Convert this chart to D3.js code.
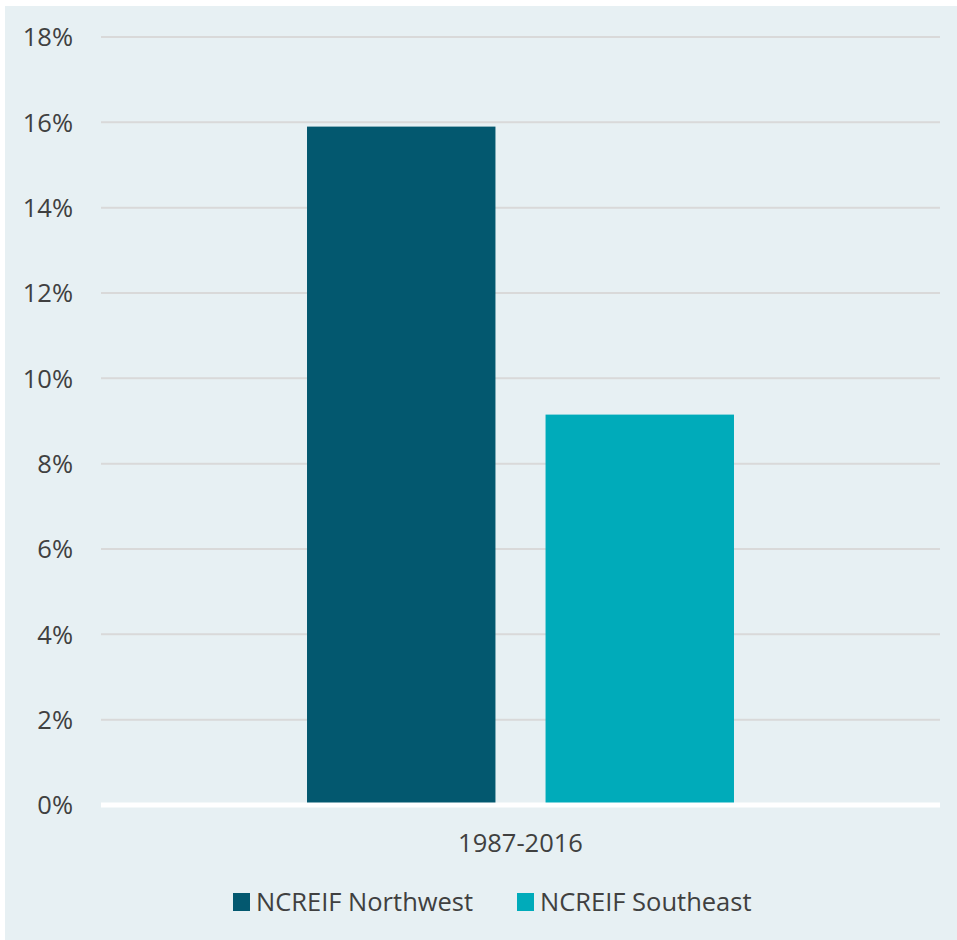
<!DOCTYPE html>
<html><head><meta charset="utf-8">
<script src="https://cdn.jsdelivr.net/npm/d3@7"></script>
<style>body{margin:0;background:#fff;}svg{display:block;}</style>
</head><body>
<script>
const categories = ["1987-2016"];
const seriesNames = ["NCREIF Northwest", "NCREIF Southeast"];
const northwest = [15.9];
const southeast = [9.15];
const yTicks = [0, 2, 4, 6, 8, 10, 12, 14, 16, 18];
const colors = ["#03586F", "#00ABBA"];

(function () {
const W = 957, H = 940;
const svg = d3.select("body").append("svg").attr("width", W).attr("height", H);
const font = "'Open Sans', sans-serif";
const textColor = "#404040";
const fs = 25.5;

svg.append("rect").attr("x", 5).attr("y", 6).attr("width", W - 5).attr("height", H - 6).attr("fill", "#E7F0F3");

const pLeft = 101, pRight = 940, pTop = 37, pBottom = 805;
const y = d3.scaleLinear().domain([0, 18]).range([pBottom, pTop]);
const x0 = d3.scaleBand().domain(categories).range([pLeft, pRight]).paddingOuter(0.4825).paddingInner(0);
const x1 = d3.scaleBand().domain(seriesNames).range([0, x0.bandwidth()]).paddingInner(0.21).paddingOuter(0);

// gridlines
svg.append("g").selectAll("line").data(yTicks.filter(d => d > 0)).join("line")
  .attr("x1", pLeft).attr("x2", pRight)
  .attr("y1", d => y(d)).attr("y2", d => y(d))
  .attr("stroke", "#D9D9D9").attr("stroke-width", 2);

// y axis labels
const yAxis = d3.axisLeft(y).tickValues(yTicks).tickFormat(d => d + "%").tickSize(0).tickPadding(0);
const ya = svg.append("g").attr("transform", `translate(73,0)`).call(yAxis);
ya.select(".domain").remove();
ya.selectAll("text").attr("font-family", font).attr("font-size", fs).attr("fill", textColor).attr("dy", "0.35em");

// bars
const data = categories.map((c, i) => ({cat: c, vals: [northwest[i], southeast[i]]}));
const groups = svg.append("g").selectAll("g").data(data).join("g")
  .attr("transform", d => `translate(${x0(d.cat)},0)`);
groups.selectAll("rect").data(d => d.vals.map((v, j) => ({name: seriesNames[j], v, j}))).join("rect")
  .attr("x", d => x1(d.name)).attr("width", x1.bandwidth())
  .attr("y", d => y(d.v)).attr("height", d => y(0) - y(d.v))
  .attr("fill", d => colors[d.j]);

// baseline
svg.append("line").attr("x1", pLeft).attr("x2", pRight).attr("y1", y(0)).attr("y2", y(0))
  .attr("stroke", "#FFFFFF").attr("stroke-width", 5);

// x axis labels
const xAxis = d3.axisBottom(x0).tickSize(0).tickPadding(0);
const xa = svg.append("g").attr("transform", `translate(0,843)`).call(xAxis);
xa.select(".domain").remove();
xa.selectAll("text").attr("font-family", font).attr("font-size", fs).attr("fill", textColor).attr("dy", "0.35em");

// legend
const legendX = [233, 517];
const lg = svg.append("g").selectAll("g").data(seriesNames).join("g")
  .attr("transform", (d, i) => `translate(${legendX[i]},902)`);
lg.append("rect").attr("x", 0).attr("y", -9).attr("width", 17).attr("height", 18).attr("fill", (d, i) => colors[i]);
lg.append("text").attr("x", 23).attr("dy", "0.35em").text(d => d)
  .attr("font-family", font).attr("font-size", fs).attr("fill", textColor);
})();
</script>
</body></html>
